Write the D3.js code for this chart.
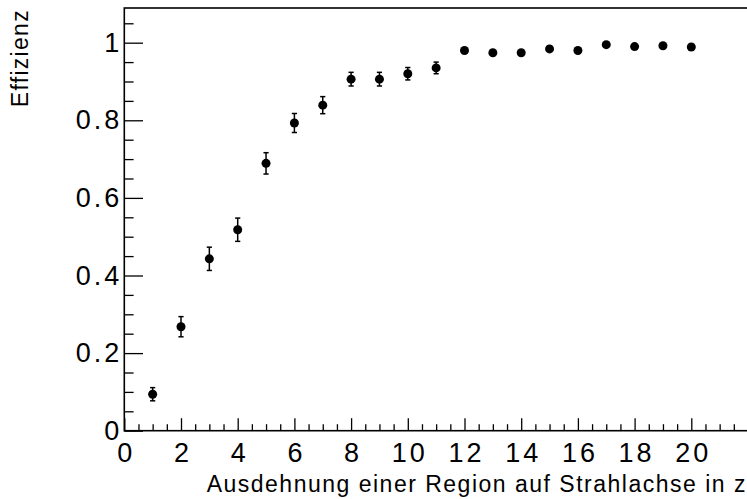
<!DOCTYPE html>
<html>
<head>
<meta charset="utf-8">
<script src="https://cdn.jsdelivr.net/npm/d3@7"></script>
<style>
  html, body { margin: 0; padding: 0; background: #fff; }
  svg { display: block; font-family: "Liberation Sans", Arial, Helvetica, sans-serif; }
</style>
</head>
<body>
<svg id="chart" width="747" height="499"></svg>
<script>
// ---- data ----
const regionSizes = [1, 2, 3, 4, 5, 6, 7, 8, 9, 10, 11, 12, 13, 14, 15, 16, 17, 18, 19, 20];
const efficiency = [0.094, 0.268, 0.443, 0.518, 0.689, 0.793, 0.839, 0.906, 0.906, 0.920,
                    0.935, 0.980, 0.974, 0.974, 0.984, 0.980, 0.995, 0.990, 0.992, 0.989];
const efficiencyErr = [0.017, 0.026, 0.030, 0.030, 0.0275, 0.0245, 0.022, 0.0176, 0.0176, 0.016,
                       0.015, 0.007, 0.008, 0.008, 0.006, 0.007, 0.004, 0.005, 0.005, 0.005];
const xMajorTicks = [0, 2, 4, 6, 8, 10, 12, 14, 16, 18, 20];
const yMajorTicks = [0, 0.2, 0.4, 0.6, 0.8, 1];
const xTitle = "Ausdehnung einer Region auf Strahlachse in z";
const yTitle = "Effizienz";

// ---- layout ----
const mLeft = 124.3, mRight = 748, mTop = 8, mBottom = 430.7;
const svg = d3.select("#chart");

const x = d3.scaleLinear().domain([0, 22]).range([mLeft, mRight]);
const y = d3.scaleLinear().domain([0, 1.0894]).range([mBottom, mTop]);

const xMinor = d3.range(0, 22.001, 0.5).filter(v => Math.abs(v % 2) > 1e-6);
const yMinor = d3.range(0, 1.0801, 0.05).map(v => +v.toFixed(2)).filter(v => !yMajorTicks.some(t => Math.abs(t - v) < 1e-6));

const fmt = d => (d === 0 ? "0" : d3.format("")(+d.toFixed(1)));

// minor ticks
svg.append("g").attr("transform", `translate(0,${mBottom})`)
  .call(d3.axisBottom(x).tickValues(xMinor).tickSizeInner(-6.5).tickSizeOuter(0).tickFormat(""))
  .call(g => g.select(".domain").remove());
svg.append("g").attr("transform", `translate(${mLeft},0)`)
  .call(d3.axisLeft(y).tickValues(yMinor).tickSizeInner(-9.3).tickSizeOuter(0).tickFormat(""))
  .call(g => g.select(".domain").remove());

// major ticks with labels
const gx = svg.append("g").attr("transform", `translate(0,${mBottom})`)
  .call(d3.axisBottom(x).tickValues(xMajorTicks).tickSizeInner(-12.5).tickSizeOuter(0).tickPadding(12.5).tickFormat(d3.format("d")))
  .call(g => g.select(".domain").remove());
gx.selectAll("text").attr("font-size", 27).attr("font-family", "Liberation Sans, Arial, sans-serif")
  .attr("fill", "#000").style("letter-spacing", "3px").attr("dx", 1.5);

const gy = svg.append("g").attr("transform", `translate(${mLeft},0)`)
  .call(d3.axisLeft(y).tickValues(yMajorTicks).tickSizeInner(-18.7).tickSizeOuter(0).tickPadding(2).tickFormat(fmt))
  .call(g => g.select(".domain").remove());
gy.selectAll("text").attr("font-size", 27).attr("font-family", "Liberation Sans, Arial, sans-serif")
  .attr("fill", "#000").style("letter-spacing", "3px");

svg.selectAll(".tick line").attr("stroke", "#000").attr("stroke-width", 1.3);

// frame
svg.append("rect")
  .attr("x", mLeft).attr("y", mTop)
  .attr("width", mRight - mLeft).attr("height", mBottom - mTop)
  .attr("fill", "none").attr("stroke", "#000").attr("stroke-width", 1.6);

// data
const pts = regionSizes.map((v, i) => ({ x: v, y: efficiency[i], e: efficiencyErr[i] }));
const rMarker = 4.5, cap = 2.6;
const bars = svg.append("g").attr("stroke", "#000").attr("stroke-width", 1.5);
pts.forEach(p => {
  const cx = x(p.x), y1 = y(p.y + p.e), y2 = y(p.y - p.e);
  if (y2 - y(p.y) > rMarker) {
    bars.append("line").attr("x1", cx).attr("x2", cx).attr("y1", y1).attr("y2", y2);
    bars.append("line").attr("x1", cx - cap).attr("x2", cx + cap).attr("y1", y1).attr("y2", y1);
    bars.append("line").attr("x1", cx - cap).attr("x2", cx + cap).attr("y1", y2).attr("y2", y2);
  }
});
svg.append("g").selectAll("circle").data(pts).join("circle")
  .attr("cx", d => x(d.x)).attr("cy", d => y(d.y)).attr("r", rMarker).attr("fill", "#000");

// titles
svg.append("text")
  .attr("x", 747).attr("y", 492)
  .attr("text-anchor", "end").attr("font-size", 23).style("letter-spacing", "1.5px")
  .attr("fill", "#000").text(xTitle);
svg.append("text")
  .attr("transform", "translate(27.5,9) rotate(-90)")
  .attr("text-anchor", "end").attr("font-size", 23).style("letter-spacing", "1.3px")
  .attr("fill", "#000").text(yTitle);
</script>
</body>
</html>
